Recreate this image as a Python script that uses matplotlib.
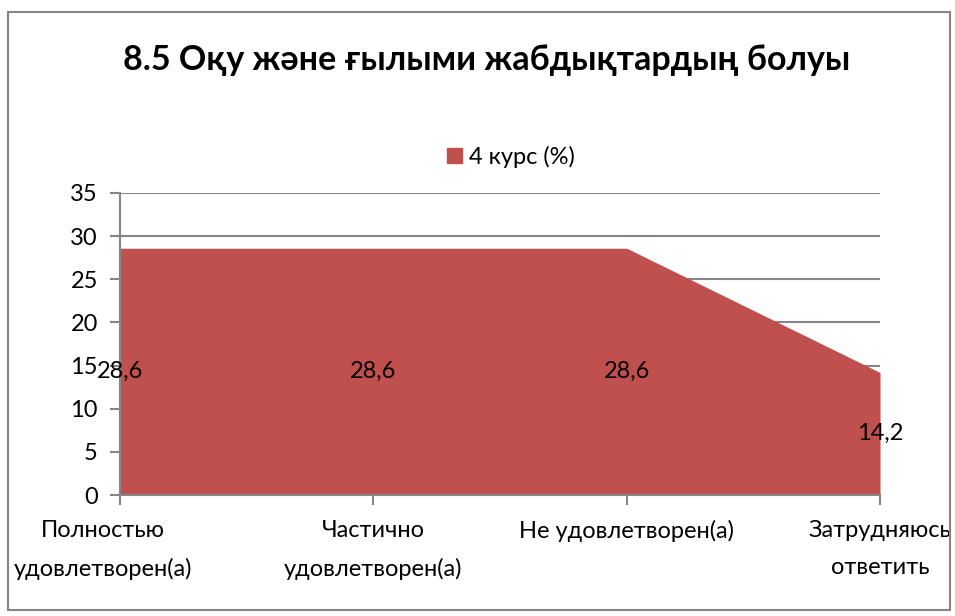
import matplotlib.pyplot as plt
import matplotlib.transforms as mtransforms
from matplotlib.patches import Rectangle, Patch

categories = ["Полностью\nудовлетворен(а)", "Частично\nудовлетворен(а)",
              "Не удовлетворен(а)", "Затрудняюсь\nответить"]
values = [28.6, 28.6, 28.6, 14.2]
value_labels = ["28,6", "28,6", "28,6", "14,2"]
series_name = "4 курс (%)"
title = "8.5 Оқу және ғылыми жабдықтардың болуы"

plt.rcParams['font.family'] = ['Lato', 'DejaVu Sans']

fig = plt.figure(figsize=(9.55, 6.16), dpi=100)
ax = fig.add_axes([0.1257, 0.1964, 0.7958, 0.4903])

# outer chart frame
fig.patches.append(Rectangle((8 / 955, 6 / 616), 942 / 955, 598 / 616,
                             transform=fig.transFigure, fill=False,
                             edgecolor="#868686", linewidth=1.5))

x = list(range(len(categories)))
ax.fill_between(x, 0, values, color="#C0504D", linewidth=0, zorder=2)

ax.set_xlim(0, 3)
ax.set_ylim(0, 35)
ax.set_yticks(range(0, 36, 5))
ax.yaxis.grid(True, color="#868686", linewidth=1.5)
ax.set_axisbelow(True)
for s in ["top", "right"]:
    ax.spines[s].set_visible(False)
for s in ["left", "bottom"]:
    ax.spines[s].set_color("#868686")
    ax.spines[s].set_linewidth(1.5)
    ax.spines[s].set_zorder(3)
ax.tick_params(axis="both", colors="#868686", width=1.5, length=7,
               labelcolor="black", labelsize=17)
ax.tick_params(axis="y", pad=9)
ax.tick_params(axis="x", pad=11)
ax.set_xticks(x)
ax.set_xticklabels(categories, fontsize=17, linespacing=1.95)
ticklabels = ax.get_xticklabels()
ticklabels[0].set_transform(ticklabels[0].get_transform() +
                            mtransforms.ScaledTranslation(-0.17, 0, fig.dpi_scale_trans))

# data labels in the middle of the area
for i, (v, lab) in enumerate(zip(values, value_labels)):
    ax.text(i, v / 2, lab, ha="center", va="center", fontsize=17, zorder=4,
            clip_on=False)

fig.text(0.51, 0.902, title, ha="center", va="center", fontsize=24.5,
         fontweight="bold")
fig.legend(handles=[Patch(color="#C0504D", label=series_name)],
           loc="center", bbox_to_anchor=(0.535, 0.745), frameon=False,
           fontsize=17, handlelength=0.6, handleheight=0.6, handletextpad=0.3)

fig.savefig("out.png", dpi=100)
